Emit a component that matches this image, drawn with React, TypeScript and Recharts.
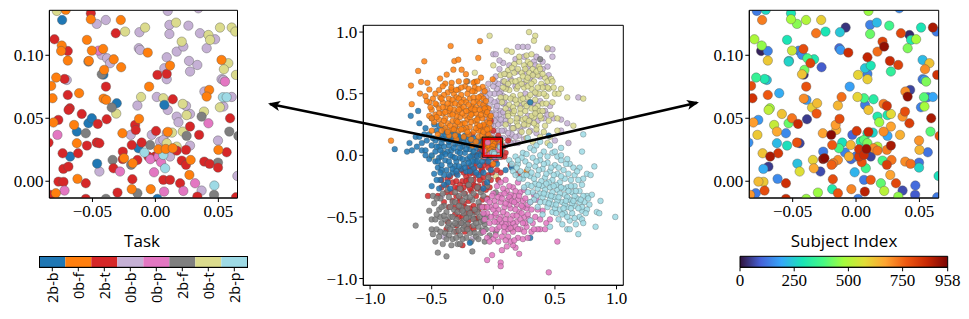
import { Bar, BarChart, Cell, ReferenceArea, Scatter, ScatterChart, XAxis, YAxis } from "recharts";

// categories in colorbar order
const TASKS = ["2b-b", "0b-f", "2b-t", "0b-b", "0b-p", "2b-f", "0b-t", "2b-p"];
const TASK_COLORS = ["#1f77b4", "#ff7f0e", "#d62728", "#c5b0d5", "#e377c2", "#7f7f7f", "#dbdb8d", "#9edae5"];
const TURBO = ["#30123b", "#4662d8", "#36a8f9", "#1ae4b6", "#46f884", "#a4fc3c", "#e1dd37", "#fea431", "#ef5911", "#c82803", "#7a0403"];
const SUBJECT_MAX = 958;
const SUBJECT_TICKS = [0, 250, 500, 750, 958];
const MAIN_TICKS = [-1, -0.5, 0, 0.5, 1];
const INSET_X_TICKS = [-0.05, 0, 0.05];
const INSET_Y_TICKS = [0, 0.05, 0.1];
const MAIN_DOMAIN = [-1.055, 1.055];
const INSET_X_DOMAIN = [-0.0842, 0.0652];
const INSET_Y_DOMAIN = [-0.0133, 0.1357];

// embedding
const BLUE = [[-.8,.05],[-.7,.03],[-.66,.04],[-.68,.1],[-.63,.15],[-.67,.32],[-.61,.36],[-.6,.26],[-.55,.22],[-.5,.3],[-.52,.17],[-.6,.15],[-.62,.07],[-.58,.04],[-.55,.04],[-.54,.12],[-.5,.08],[-.52,-.03],[-.5,0],[-.47,-.05],[-.45,-.1],[-.48,-.15],[-.5,-.25],[-.43,-.2],[-.19,-.71],[.3,-.67],[-.05,-.22],[.1,-.12],[.15,-.1],[.3,.43],[.45,.16],[-.46,.2],[-.42,.16],[-.47,.12],[-.44,.07],[-.41,.02],[-.44,-.02],[-.38,.13],[-.36,.08],[-.33,.14],[-.37,.03],[-.39,-.04],[-.35,-.08],[-.38,-.12],[-.31,.09],[-.29,.03],[-.33,-.01],[-.3,-.05],[-.28,.12],[-.25,.07],[-.23,.02],[-.27,-.02],[-.24,-.07],[-.26,-.11],[-.21,.11],[-.19,.05],[-.17,.0],[-.21,-.03],[-.18,-.08],[-.14,.06],[-.12,.01],[-.15,-.04],[-.11,-.08],[-.09,.04],[-.07,-.02],[-.33,.19],[-.4,.21],[-.29,.17],[-.23,.16],[-.33,-.14],[-.29,-.16],[-.4,-.16],[-.44,-.27],[-.37,-.22],[-.22,-.13],[-.12,-.16],[-.08,-.27],[-.02,-.12],[.03,-.07],[-.42,.1],[-.34,.04],[-.27,.06],[-.2,.08],[-.16,.03],[-.31,-.09],[-.25,-.03],[-.19,-.01],[-.13,-.01],[-.42,-.08],[-.4,.07],[-.36,.16],[-.26,.14],[-.47,.03],[-.42,-.12],[-.16,-.11],[-.24,.1],[-.3,.14],[-.44,.14],[-.39,.17],[-.35,.12],[-.32,.06],[-.29,.1],[-.27,.02],[-.22,.05],[-.18,.12],[-.15,.1],[-.12,.08],[-.1,.0],[-.07,.05],[-.05,.08],[-.04,.01],[-.09,-.05],[-.13,-.05],[-.17,-.05],[-.2,-.06],[-.23,-.1],[-.28,-.09],[-.31,-.02],[-.35,0],[-.39,.01],[-.43,.04],[-.46,.07],[-.36,.11],[-.41,.13],[-.38,.19],[-.34,.17],[-.28,.15],[-.24,.14],[-.2,.15],[-.16,.14],[-.12,.12],[-.08,.11],[-.45,-.05],[-.42,-.01],[-.36,-.05],[-.33,-.11],[-.3,-.13],[-.36,-.16],[-.43,-.14],[-.46,-.2],[-.4,-.24],[-.35,-.27],[-.19,-.13],[-.14,-.14],[-.08,-.14],[-.04,-.05],[-.56,.17],[-.48,.25],[-.44,.24],[-.58,.1],[-.49,.14],[-.55,.0],[.0,.02]];
const ORANGE = [[-.346,.887],[-.108,.927],[-.56,.763],[-.316,.765],[-.284,.776],[-.122,.79],[-.61,.685],[-.378,.655],[-.324,.695],[-.257,.695],[-.222,.658],[-.432,.623],[-.586,.596],[-.668,.566],[-.535,.588],[-.595,.501],[-.662,.415],[-.83,.119],[-.39,.582],[-.338,.588],[-.284,.534],[-.519,.534],[-.149,.596],[-.005,.617],[-.086,.555],[-.16,.59],[-.37,.51],[-.32,.5],[-.26,.49],[-.15,.52],[-.1,.48],[-.49,.46],[-.43,.47],[-.36,.46],[-.3,.47],[-.24,.45],[-.19,.46],[-.13,.44],[-.08,.46],[-.46,.41],[-.41,.43],[-.34,.42],[-.28,.41],[-.22,.43],[-.17,.4],[-.11,.42],[-.06,.39],[-.5,.37],[-.44,.38],[-.38,.39],[-.32,.37],[-.26,.38],[-.2,.36],[-.14,.39],[-.09,.36],[-.04,.38],[-.47,.33],[-.41,.34],[-.35,.33],[-.29,.35],[-.23,.32],[-.17,.34],[-.12,.31],[-.06,.33],[-.44,.29],[-.39,.3],[-.33,.28],[-.27,.31],[-.21,.29],[-.15,.28],[-.09,.3],[-.05,.27],[-.37,.26],[-.31,.24],[-.25,.26],[-.19,.23],[-.13,.25],[-.07,.23],[-.34,.21],[-.28,.2],[-.22,.22],[-.16,.19],[-.1,.2],[-.04,.17],[-.45,.17],[-.36,.16],[-.24,.15],[-.18,.13],[-.12,.15],[-.06,.12],[-.3,.13],[-.17,.08],[-.1,.07],[.0,-.07],[.27,-.13],[-.52,.43],[-.47,.5],[-.4,.49],[-.34,.53],[-.28,.46],[-.21,.5],[-.16,.47],[-.52,.32],[-.41,.39],[-.36,.36],[-.3,.32],[-.25,.34],[-.19,.31],[-.14,.34],[-.08,.41],[-.03,.3],[-.39,.22],[-.24,.21],[-.12,.2],[-.2,.17],[-.09,.16],[-.03,.22],[-.48,.27],[-.15,.55],[-.23,.56],[-.07,.52],[-.55,.48],[-.33,.33],[-.27,.25],[-.18,.38],[-.47,.42],[-.44,.34],[-.42,.46],[-.39,.35],[-.37,.42],[-.35,.38],[-.33,.45],[-.31,.42],[-.3,.28],[-.28,.37],[-.26,.43],[-.24,.39],[-.22,.36],[-.2,.41],[-.18,.33],[-.16,.43],[-.15,.37],[-.13,.29],[-.12,.47],[-.11,.37],[-.1,.33],[-.08,.25],[-.07,.38],[-.06,.44],[-.05,.35],[-.02,.32],[-.42,.25],[-.4,.28],[-.35,.24],[-.32,.21],[-.29,.27],[-.26,.21],[-.23,.26],[-.21,.19],[-.18,.27],[-.14,.22],[-.11,.24],[-.08,.19],[-.05,.21],[-.03,.26],[-.34,.55],[-.3,.53],[-.26,.55],[-.2,.54],[-.17,.52],[-.12,.54],[-.44,.53],[-.51,.39],[-.54,.44],[-.46,.31],[-.5,.3],[-.41,.56],[-.28,.6],[-.22,.6],[-.1,.63],[-.13,.6],[-.42,.2],[-.5,.2],[-.37,.19],[-.31,.16],[-.14,.11],[-.02,.14]];
const RED = [[-.53,-.33],[-.42,-.26],[-.4,-.38],[-.37,-.19],[-.33,-.22],[-.3,-.15],[-.26,-.12],[-.22,-.17],[-.2,-.1],[-.17,-.14],[-.14,-.06],[-.1,-.1],[-.08,-.18],[-.05,-.06],[-.02,-.02],[.02,-.04],[-.34,-.3],[-.29,-.27],[-.25,-.21],[-.21,-.24],[-.16,-.2],[-.12,-.25],[-.06,-.28],[-.02,-.2],[-.27,-.35],[-.23,-.31],[-.18,-.29],[-.14,-.33],[-.09,-.36],[-.31,-.42],[-.24,-.39],[-.2,-.37],[-.16,-.41],[-.12,-.44],[-.28,-.5],[-.22,-.47],[-.18,-.46],[-.26,-.55],[-.23,-.62],[-.19,-.58],[-.13,-.51],[-.25,-.73],[-.37,-.54],[-.3,-.62],[-.1,.12],[-.05,.18],[.0,.2],[.04,.16],[.08,.07],[-.02,.09],[.1,.02],[.03,.02],[-.08,.24],[-.05,-.35],[-.07,-.42],[-.45,-.33],[-.15,-.52],[-.11,.03],[.06,-.14],[.14,-.08],[-.3,-.21],[-.24,-.26],[-.19,-.15],[-.11,-.2],[-.04,-.1],[.05,.08],[-.06,.06],[-.16,-.24],[-.09,-.12],[-.38,-.3],[-.28,-.38],[-.1,-.28],[-.03,-.26],[-.15,-.1],[-.42,-.2],[-.38,-.24],[-.35,-.17],[-.31,-.26],[-.27,-.24],[-.24,-.14],[-.2,-.2],[-.18,-.12],[-.14,-.16],[-.13,-.27],[-.1,-.14],[-.07,-.23],[-.04,-.16],[-.01,-.08],[.03,-.12],[-.08,-.08],[-.19,-.27],[-.15,-.25],[-.26,-.28],[-.22,-.21],[-.3,-.33],[-.33,-.37],[-.36,-.42],[-.27,-.44],[-.23,-.42],[-.19,-.43],[-.15,-.46],[-.11,-.41],[-.31,-.48],[-.25,-.5],[-.2,-.53],[-.3,-.57],[-.22,-.58],[-.16,-.6],[-.38,-.6],[-.05,-.02],[-.14,.0],[.0,.05],[.02,.12],[.09,-.01],[.12,.12],[.2,-.15],[.04,-.2],[-.01,-.14],[-.17,.17],[-.12,.22],[-.02,.28]];
const LILAC = [[0,.82],[.02,.82],[.2,.88],[.24,.88],[.33,.76],[.44,.86],[.48,.86],[.48,.8],[.69,.47],[.49,.3],[.6,.26],[.55,.29],[.61,.1],[.3,.63],[.42,.56],[-.02,.45],[-.05,.53],[-.03,.4],[-.07,.35],[-.01,.34],[-.04,.28],[.0,.24],[.04,.2],[.03,.3],[.07,.26],[.02,.38],[.06,.36],[.04,.44],[.08,.42],[.01,.5],[.06,.52],[.1,.32],[.09,.2],[.12,.26],[.13,.14],[.15,.36],[.17,.22],[.16,.46],[.11,.55],[.04,.58],[.2,.3],[.21,.16],[.25,.24],[.22,.4],[.18,.56],[.28,.32],[.3,.2],[.26,.5],[.33,.42],[.36,.28],[.1,.66],[.13,.73],[.05,.7],[.26,.68],[.35,.5],[.38,.64],[.42,.36],[.44,.72],[-.1,.2],[-.06,.12],[.1,.08],[-.42,-.33],[-.17,-.68],[-.4,-.66],[-.03,.5],[.01,.43],[.05,.33],[.08,.48],[-.01,.28],[.08,.14],[.15,.17],[.12,.38],[.17,.1],[.25,.13],[.03,.54],[.08,.6],[.35,.18],[.4,.7],[.34,.73],[.18,.78],[-.01,.18],[.04,.25],[-.07,.43],[-.06,.47],[-.08,.51],[-.04,.58],[0,.56],[-.09,.39],[-.05,.37],[-.03,.34],[-.06,.3],[-.02,.25],[.02,.33],[.01,.28],[.03,.4],[.05,.5],[.08,.35],[.1,.28],[.07,.2],[.12,.18],[.15,.22],[.18,.15],[.22,.2],[.06,.29],[.09,.43],[.1,.58],[.02,.64],[.01,.6],[.14,.62],[.19,.68],[.28,.72],[.33,.66],[.25,.58],[.27,.42],[.3,.27],[.35,.35],[.38,.44],[.41,.3],[.44,.33],[.46,.4],[.45,.65],[.4,.76],[.35,.8],[.28,.88],[.25,.8],[.08,.75],[.05,.77],[.5,.12],[.55,.2],[.14,.1],[.2,.1]];
const PINK = [[.45,-.95],[-.05,-.85],[.06,-.87],[.06,-.9],[-.01,-.81],[.21,-.8],[.52,-.7],[.18,-.75],[.16,-.73],[.43,-.55],[.46,-.52],[.38,-.6],[.42,-.6],[.11,-.74],[.07,-.77],[.0,-.68],[-.05,-.67],[.04,-.7],[.12,-.66],[.2,-.67],[.24,-.68],[.31,-.62],[.36,-.6],[.32,-.55],[.27,-.58],[.22,-.6],[.16,-.62],[.09,-.62],[.03,-.6],[-.03,-.55],[.07,-.55],[.13,-.56],[.19,-.54],[.25,-.5],[-.05,-.47],[.01,-.49],[.06,-.5],[.11,-.48],[.16,-.49],[.21,-.46],[.27,-.43],[-.09,-.42],[-.02,-.42],[.04,-.44],[.09,-.42],[.14,-.43],[.19,-.4],[.24,-.37],[-.05,-.36],[.01,-.37],[.06,-.38],[.12,-.36],[.17,-.33],[.22,-.3],[.0,-.31],[.06,-.32],[.11,-.29],[.16,-.26],[.03,-.25],[.3,-.38],[.34,-.5],[.4,-.45],[.35,-.36],[.1,-.2],[.2,-.22],[.03,-.54],[.1,-.52],[.16,-.55],[.22,-.52],[.02,-.47],[.08,-.46],[.13,-.4],[.18,-.44],[.24,-.42],[-.01,-.33],[.08,-.27],[.14,-.32],[.2,-.36],[.05,-.58],[.12,-.6],[.18,-.58],[-.07,-.52],[.26,-.55],[.28,-.67],[.14,-.7],[-.08,-.47],[-.05,-.42],[-.03,-.38],[.0,-.44],[.02,-.41],[.04,-.34],[.07,-.35],[.09,-.31],[.1,-.39],[.13,-.34],[.15,-.37],[.17,-.38],[.21,-.33],[.23,-.41],[.26,-.35],[.28,-.4],[.31,-.44],[.28,-.48],[.23,-.47],[.19,-.49],[.14,-.52],[.1,-.56],[.05,-.52],[.01,-.54],[-.02,-.5],[-.01,-.6],[.02,-.65],[.07,-.66],[.09,-.58],[.14,-.59],[.2,-.6],[.25,-.62],[.24,-.55],[.29,-.52],[.36,-.44],[.38,-.52],[.33,-.6],[.17,-.69],[.1,-.69],[-.03,-.7],[-.08,-.62],[.13,-.25],[.06,-.22],[.18,-.29],[.25,-.28],[.33,-.32]];
const GREY = [[-.63,-.57],[-.5,-.52],[-.47,-.52],[-.5,-.6],[-.49,-.64],[-.46,-.6],[-.47,-.7],[-.45,-.79],[-.38,-.82],[-.34,-.73],[-.29,-.72],[-.17,-.78],[-.39,-.63],[-.36,-.65],[-.27,-.72],[-.33,-.57],[-.44,-.44],[-.48,-.39],[-.43,-.35],[-.49,-.33],[-.38,-.46],[-.4,-.41],[-.35,-.5],[-.32,-.44],[-.36,-.34],[-.33,-.38],[-.29,-.46],[-.26,-.42],[-.28,-.33],[-.24,-.47],[-.21,-.43],[-.17,-.49],[-.13,-.46],[-.24,-.53],[-.21,-.56],[-.16,-.57],[-.12,-.58],[-.09,-.61],[-.29,-.56],[-.25,-.6],[-.19,-.63],[-.15,-.63],[-.32,-.62],[-.27,-.65],[-.22,-.67],[-.2,-.24],[-.16,-.31],[-.12,-.38],[-.1,-.3],[-.22,-.34],[-.18,-.2],[-.08,-.48],[-.03,-.65],[.02,-.3],[-.04,-.18],[-.1,-.54],[-.14,-.66],[.38,.78],[-.21,.6],[-.31,.22],[.02,-.62],[-.42,-.55],[-.37,-.58],[-.3,-.52],[-.43,-.5],[-.35,-.42],[-.25,-.37],[-.17,-.36],[-.2,-.5],[-.07,-.56],[-.33,-.68],[-.41,-.72],[-.24,-.57],[-.18,-.7],[-.28,-.61],[-.46,-.48],[-.42,-.42],[-.39,-.52],[-.36,-.55],[-.33,-.5],[-.31,-.38],[-.28,-.41],[-.25,-.45],[-.22,-.51],[-.19,-.47],[-.16,-.52],[-.14,-.55],[-.11,-.5],[-.08,-.53],[-.05,-.5],[-.06,-.6],[-.1,-.63],[-.12,-.68],[-.21,-.6],[-.26,-.55],[-.31,-.55],[-.35,-.6],[-.38,-.68],[-.43,-.62],[-.44,-.66],[-.52,-.45],[-.46,-.35],[-.41,-.31],[-.37,-.28],[-.31,-.3],[-.24,-.31],[-.19,-.34],[-.13,-.26],[-.08,-.33],[-.05,-.25],[-.15,-.44],[-.27,-.27],[-.3,-.67],[-.25,-.68],[-.07,-.7],[-.11,-.42],[-.4,-.49]];
const OLIVE = [[.29,1.0],[.34,.97],[.33,.93],[-.03,.97],[.11,.85],[.15,.84],[.27,.81],[.44,.87],[.5,.5],[.53,.5],[.73,.46],[.65,.24],[.52,.3],[.52,.2],[-.15,.67],[0,.73],[.46,.15],[.28,.76],[.21,.76],[.32,.7],[.12,.69],[.06,.65],[.17,.67],[.23,.67],[.29,.67],[.36,.65],[.42,.63],[.45,.54],[.39,.58],[.33,.6],[.27,.61],[.21,.61],[.15,.6],[.09,.6],[.13,.53],[.19,.54],[.25,.55],[.31,.54],[.37,.5],[.43,.48],[.1,.47],[.16,.48],[.22,.49],[.28,.47],[.34,.45],[.4,.42],[.13,.41],[.19,.42],[.25,.42],[.31,.38],[.37,.36],[.1,.38],[.16,.34],[.22,.34],[.28,.25],[.33,.31],[.39,.3],[.19,.27],[.24,.29],[.14,.28],[.42,.24],[.35,.24],[.47,.33],[.38,.15],[.44,.1],[.48,.43],[.49,.55],[.23,.19],[.27,.14],[-.16,.01],[-.5,-.01],[-.1,-.2],[.15,-.6],[.02,-.17],[.17,.74],[.25,.73],[.37,.72],[.2,.56],[.28,.56],[.34,.51],[.22,.45],[.3,.43],[.36,.4],[.16,.39],[.26,.36],[.31,.32],[.12,.34],[.19,.3],[.43,.42],[.44,.55],[.1,.54],[.26,.3],[.33,.26],[.4,.36],[.06,.47],[.13,.65],[.24,.64],[.31,.58],[.15,.71],[.2,.7],[.26,.7],[.3,.74],[.35,.68],[.4,.66],[.44,.6],[.47,.62],[.41,.5],[.4,.55],[.36,.55],[.32,.65],[.28,.63],[.23,.58],[.18,.6],[.12,.58],[.08,.55],[.07,.43],[.14,.46],[.18,.45],[.24,.46],[.3,.49],[.34,.38],[.38,.32],[.34,.34],[.27,.4],[.22,.38],[.17,.36],[.12,.32],[.2,.24],[.25,.25],[.29,.28],[.35,.21],[.41,.19],[.45,.28],[.29,.19],[.32,.11],[.16,.22],[.1,.25],[.09,.66],[.21,.8],[.31,.82],[.38,.7],[.48,.6],[.55,.54],[.6,.47]];
const CYAN = [[.99,-.5],[.83,-.58],[.69,-.64],[.6,-.6],[.73,.17],[.72,.03],[.82,-.09],[.87,-.37],[.84,-.46],[.86,-.47],[.4,-.48],[.46,-.58],[.3,-.53],[.7,-.1],[.76,-.15],[.79,-.16],[.73,-.19],[.69,-.2],[.66,-.16],[.62,-.07],[.59,-.07],[.55,-.04],[.52,-.01],[.55,.06],[.46,.08],[.48,.02],[.41,.03],[.35,.08],[.3,.06],[.24,.02],[.18,-.01],[.13,-.04],[.2,-.07],[.26,-.05],[.32,-.02],[.38,-.04],[.44,-.06],[.5,-.08],[.57,-.12],[.63,-.2],[.16,-.13],[.22,-.13],[.28,-.11],[.34,-.09],[.4,-.11],[.46,-.13],[.52,-.15],[.58,-.19],[.24,-.19],[.3,-.17],[.36,-.16],[.42,-.18],[.48,-.2],[.54,-.22],[.6,-.26],[.66,-.25],[.72,-.24],[.28,-.24],[.34,-.23],[.4,-.25],[.46,-.26],[.52,-.28],[.58,-.32],[.64,-.3],[.7,-.29],[.76,-.33],[.32,-.3],[.38,-.31],[.44,-.32],[.5,-.34],[.56,-.38],[.62,-.36],[.68,-.35],[.74,-.38],[.42,-.38],[.48,-.4],[.54,-.44],[.6,-.42],[.66,-.41],[.72,-.45],[.78,-.4],[.48,-.46],[.58,-.47],[.64,-.47],[.7,-.5],[.76,-.44],[.62,-.53],[.53,-.52],[.67,-.56],[.72,-.42],[.38,.11],[.28,.14],[.23,-.02],[.29,-.08],[.35,-.05],[.41,-.07],[.47,-.1],[.53,-.1],[.19,-.1],[.25,-.16],[.31,-.14],[.37,-.12],[.43,-.15],[.49,-.16],[.55,-.17],[.61,-.15],[.33,-.19],[.39,-.21],[.45,-.22],[.51,-.24],[.57,-.27],[.63,-.25],[.36,-.27],[.42,-.28],[.48,-.3],[.54,-.31],[.6,-.34],[.66,-.33],[.4,-.34],[.46,-.36],[.52,-.37],[.58,-.4],[.64,-.39],[.7,-.38],[.44,-.42],[.5,-.43],[.56,-.48],[.15,-.07],[.2,-.04],[.27,.01],[.33,.04],[.38,.0],[.44,-.01],[.5,.03],[.55,0],[.6,-.03],[.65,-.1],[.68,-.13],[.27,-.16],[.21,-.19],[.18,-.16],[.25,-.26],[.31,-.25],[.37,-.24],[.43,-.23],[.49,-.25],[.55,-.26],[.61,-.29],[.67,-.29],[.73,-.33],[.35,-.33],[.41,-.31],[.47,-.33],[.53,-.34],[.59,-.37],[.65,-.37],[.71,-.36],[.8,-.32],[.45,-.39],[.51,-.4],[.57,-.43],[.63,-.43],[.69,-.43],[.75,-.47],[.51,-.47],[.6,-.5],[.66,-.51],[.72,-.52],[.77,-.35],[.56,-.56],[.73,-.55],[.62,-.6],[.38,-.38],[.33,-.36],[.28,-.3],[.3,-.38],[.36,-.42]];

// the inset region: x, y, task index, subject index
const INSET_POINTS = [
  [-.0783,.1352,6,130],[-.0712,.136,1,270],[-.0741,.128,0,720],[-.0513,.1333,2,290],[-.0513,.1286,1,480],[-.0466,.1249,3,450],[-.0394,.128,3,500],[-.0275,.128,1,600],[-.0315,.1175,2,730],[-.0241,.1188,6,290],[-.0127,.1183,3,240],[-.0082,.122,6,40],[.0098,.1352,3,470],[.0111,.1241,3,140],[.0164,.1259,6,220],[.0262,.1235,3,370],[.0111,.1169,3,420],[.0354,.1175,3,800],[.0421,.1161,6,30],[.0434,.1122,6,300],[.0474,.1127,3,480],[.0513,.122,6,290],[.0606,.122,6,900],[.0635,.1188,6,130],[.0341,.1373,3,150],
  [-.0802,.1127,2,490],[-.0744,.1077,1,460],[-.0749,.1034,1,20],[-.0696,.1034,2,140],[-.0696,.0958,1,610],[-.0544,.1122,1,290],[-.0505,.1037,1,540],[-.0452,.1037,4,130],[-.0415,.105,1,790],[-.0426,.1003,3,150],[-.0384,.0976,3,380],[-.0331,.0968,1,300],[-.036,.0937,3,810],[-.0532,.095,5,260],[-.0529,.0955,1,240],[-.0407,.0884,1,430],[-.0426,.0849,5,620],[-.0413,.0846,0,30],[-.0272,.0905,1,90],[-.0132,.1056,3,110],[-.0122,.1042,3,170],[-.0061,.1021,1,850],[.009,.0984,3,870],[.0169,.1029,3,740],[.0209,.1108,6,810],[.0222,.1069,3,930],[.0407,.1056,3,440],[.0267,.0955,3,860],[.0333,.0923,3,810],[.0275,.0871,3,340],[.0116,.0918,1,290],[.0071,.0897,3,240],[.0016,.0844,2,590],[.009,.0852,2,140],[.009,.081,3,600],[.0525,.0963,1,220],[.0579,.0937,6,620],[.0544,.0889,6,700],[.064,.0844,6,840],[.0525,.081,3,130],[.054,.0805,3,170],[.0553,.0791,4,440],
  [-.0788,.0823,1,350],[-.0722,.0812,2,300],[-.0704,.0804,3,230],[-.0828,.0757,1,790],[-.0393,.0751,2,780],[-.0606,.0699,1,200],[-.0696,.0685,2,770],[-.0817,.0659,1,840],[-.0412,.0656,1,700],[-.0391,.0646,1,170],[-.0307,.0619,0,630],[-.0347,.0585,5,600],[-.068,.0579,2,480],[-.069,.0566,2,520],[-.005,.0751,1,180],[-.0114,.0669,6,740],[-.0143,.0601,3,640],[.0011,.0669,3,590],[.0063,.0659,6,380],[.0071,.0606,0,130],[.0098,.0566,3,620],[.0138,.0651,2,320],[.0217,.0614,6,720],[.0243,.0598,3,840],[.0169,.0513,3,310],[.0183,.0468,3,470],[.0275,.0534,3,580],[.0248,.0525,6,300],[.0386,.0553,6,790],[.0367,.0513,5,690],[.0389,.0712,3,700],[.0427,.0725,1,60],[.0407,.0672,1,930],[.0536,.0667,7,400],[.0566,.0667,7,130],[.0606,.0669,3,190],[.0512,.0587,6,140],[.054,.0593,3,480],[.0593,.05,2,900],[.0421,.046,4,820],[.0587,.0394,5,400],[.0659,.036,5,780],
  [-.0585,.0534,2,620],[-.0771,.0487,2,170],[-.081,.0466,1,680],[-.0778,.0368,4,610],[-.0646,.0447,1,530],[-.0532,.046,0,420],[-.0505,.05,0,730],[-.0458,.0455,2,860],[-.0387,.0492,2,50],[-.0311,.0537,6,770],[-.013,.0495,1,790],[-.0161,.0447,2,680],[-.0156,.0407,2,650],[-.0196,.0368,3,940],[-.0262,.0381,1,670],[-.0624,.0394,0,660],[-.0553,.0381,5,150],[-.0624,.0302,1,220],[-.0544,.0283,2,280],[-.0466,.0307,2,780],[-.0445,.0302,2,60],[-.0849,.0307,2,160],[-.0737,.0222,2,620],[-.0677,.0196,0,900],[-.0614,.0222,2,830],[-.0731,.0098,2,200],[-.0691,.0116,2,50],[-.0463,.014,0,230],[-.0445,.0077,3,570],[-.0333,.0103,2,660],[-.034,.0169,5,590],[-.0281,.0077,4,70],[-.0259,.0235,2,130],[-.0249,.0183,1,940],[-.026,.0176,2,930],[-.0188,.0288,2,770],[-.0109,.0307,2,280],[-.0135,.0262,0,380],[-.0087,.0228,7,140],[-.0193,.013,5,760],[-.018,.0143,1,720],[-.0143,.0169,2,700],[-.0183,.0016,2,790],
  [-.0042,.0288,5,640],[-.0029,.0368,3,100],[.0005,.0399,2,830],[.0098,.0392,1,860],[.0132,.0386,6,260],[.009,.0381,3,300],[.0037,.0315,3,310],[.0063,.0328,3,400],[.009,.0302,6,440],[.0024,.0254,1,840],[.0082,.0256,1,920],[.0138,.0262,1,700],[.0169,.0275,6,500],[.0169,.0243,2,730],[.0063,.0209,7,850],[-.0003,.0196,2,130],[-.004,.0175,4,110],[.0024,.0196,4,830],[.0045,.0151,4,780],[.0077,.0103,7,370],[-.0011,.0071,4,210],[.0116,.0196,3,60],[-.0056,.0196,2,650],[.0063,.0011,2,130],[.0116,.0011,2,770],[.0196,-.0016,2,410],[.0315,-.0016,4,800],[.027,.005,1,670],[.0209,.0164,2,380],[.0243,.013,2,820],[.028,.0169,1,730],[.0243,.0249,2,720],[.0275,.0283,3,900],[.0217,.0394,6,700],[.0248,.036,5,190],[.0275,.0434,2,670],[.0347,.0368,2,650],[.0497,.0323,3,690],[.05,.0249,1,640],[.0566,.023,2,120],[.0388,.0156,2,700],[.043,.0138,2,740],[.0497,.0148,5,120],[.0497,.0108,2,260],[.0651,.0042,3,280],[.0468,-.0034,7,110],[.0466,-.0108,5,90],[.0367,-.0074,3,70],[.0333,-.0122,2,460],[.0222,-.0077,4,510],[.0069,-.0082,4,880],[-.0037,-.0063,1,710],[-.0143,-.0095,5,780],[-.0188,-.0063,1,310],[-.0301,-.009,2,470],[-.0553,-.0016,2,850],[-.0619,.0019,1,150],[-.077,-.0003,2,630],[-.073,-.0005,2,610],[-.0722,-.0074,4,790],[-.0791,-.0095,1,130],[-.0836,-.0108,2,690],[-.0553,-.014,2,850],[-.0393,-.014,5,470],[.0016,-.014,0,140],[.064,-.0127,2,130],
];

// where the inset sits on the middle panel
const BOX_OUTER = { x1: -0.09, x2: 0.073, y1: -0.015, y2: 0.147 };
const BOX_RED = { x1: -0.078, x2: 0.061, y1: -0.004, y2: 0.132 };

const SERIF = "'Liberation Serif', serif";
const SANS = "'Open Sans', sans-serif";
const TICK = { fontFamily: SERIF, fontSize: 17, fill: "#000" };

const fmt = (digits: number) => (v: number) => (v < 0 ? "\u2212" : "") + Math.abs(v).toFixed(digits);
const toXY = (rows: number[][]) => rows.map(([x, y]) => ({ x, y }));

const hexToRgb = (h: string) => [1, 3, 5].map((i) => parseInt(h.slice(i, i + 2), 16));
const turbo = (subject: number) => {
  const t = (subject / SUBJECT_MAX) * (TURBO.length - 1);
  const i = Math.min(Math.floor(t), TURBO.length - 2);
  const a = hexToRgb(TURBO[i]);
  const b = hexToRgb(TURBO[i + 1]);
  const c = a.map((v, k) => Math.round(v + (b[k] - v) * (t - i)));
  return `rgb(${c[0]},${c[1]},${c[2]})`;
};

const taskRows = (task: number) => toXY(INSET_POINTS.filter((p) => p[2] === task));
const bySubject = [...INSET_POINTS]
  .sort((a, b) => a[3] - b[3])
  .map(([x, y, , subject]) => ({ x, y, subject }));

const cbData = TASKS.map((task) => ({ task, v: 1 }));
const subjectTickRows = SUBJECT_TICKS.map((x) => ({ x, y: 0 }));

const dot = (r: number) => (p: any) => (
  <circle cx={p.cx} cy={p.cy} r={r} fill={p.fill} fillOpacity={p.fillOpacity} stroke={p.stroke} strokeWidth={p.strokeWidth} />
);

const RotatedTick = ({ x, y, payload }: any) => (
  <text
    x={x}
    y={y}
    transform={`rotate(-90 ${x} ${y})`}
    textAnchor="end"
    dominantBaseline="central"
    fontFamily={SANS}
    fontSize={14.5}
    fill="#000"
    dx={1}
  >
    {payload.value}
  </text>
);

const frame = (x: number[], y: number[]) => (
  <ReferenceArea x1={x[0]} x2={x[1]} y1={y[0]} y2={y[1]} fill="none" stroke="#000" strokeWidth={1} zIndex={1000} />
);

const LeftInset = () => (
  <ScatterChart width={245} height={235} margin={{ left: 9.4, right: 7.5, top: 10.3, bottom: 7 }}>
    <XAxis type="number" dataKey="x" domain={INSET_X_DOMAIN} ticks={INSET_X_TICKS} tickFormatter={fmt(2)} allowDataOverflow interval={0} height={30} tickSize={4} tickMargin={3} tick={TICK} stroke="#000" />
    <YAxis type="number" dataKey="y" domain={INSET_Y_DOMAIN} ticks={INSET_Y_TICKS} tickFormatter={fmt(2)} allowDataOverflow interval={0} width={40} tickSize={4} tickMargin={2} tick={TICK} stroke="#000" />
    {[3, 6, 0, 5, 2, 4, 7, 1].map((task) => (
      <Scatter key={task} data={taskRows(task)} fill={TASK_COLORS[task]} stroke="#555" strokeWidth={0.4} shape={dot(4.7)} isAnimationActive={false} />
    ))}
    {frame(INSET_X_DOMAIN, INSET_Y_DOMAIN)}
  </ScatterChart>
);

const RightInset = () => (
  <ScatterChart width={269} height={235} margin={{ left: 9.3, right: 30.3, top: 10.3, bottom: 7 }}>
    <XAxis type="number" dataKey="x" domain={INSET_X_DOMAIN} ticks={INSET_X_TICKS} tickFormatter={fmt(2)} allowDataOverflow interval={0} height={30} tickSize={4} tickMargin={3} tick={TICK} stroke="#000" />
    <YAxis type="number" dataKey="y" domain={INSET_Y_DOMAIN} ticks={INSET_Y_TICKS} tickFormatter={fmt(2)} allowDataOverflow interval={0} width={40} tickSize={4} tickMargin={2} tick={TICK} stroke="#000" />
    <Scatter data={bySubject} stroke="#555" strokeWidth={0.4} shape={dot(4.7)} isAnimationActive={false}>
      {bySubject.map((p, i) => (
        <Cell key={i} fill={turbo(p.subject)} />
      ))}
    </Scatter>
    {frame(INSET_X_DOMAIN, INSET_Y_DOMAIN)}
  </ScatterChart>
);

const MainPanel = () => (
  <ScatterChart width={320} height={319} margin={{ left: 1.3, right: 16.7, top: 25.3, bottom: 3.7 }}>
    <XAxis type="number" dataKey="x" domain={MAIN_DOMAIN} ticks={MAIN_TICKS} tickFormatter={fmt(1)} allowDataOverflow interval={0} height={30} tickSize={4} tickMargin={3} tick={TICK} stroke="#000" />
    <YAxis type="number" dataKey="y" domain={MAIN_DOMAIN} ticks={MAIN_TICKS} tickFormatter={fmt(1)} allowDataOverflow interval={0} width={42} tickSize={4} tickMargin={2} tick={TICK} stroke="#000" />
    {[
      [LILAC, 3],
      [OLIVE, 6],
      [RED, 2],
      [GREY, 5],
      [BLUE, 0],
      [ORANGE, 1],
      [PINK, 4],
      [CYAN, 7],
    ].map(([rows, task]: any) => (
      <Scatter key={task} data={[...toXY(rows), ...taskRows(task)]} fill={TASK_COLORS[task]} fillOpacity={0.85} stroke="#444" strokeWidth={0.3} shape={dot(2.85)} isAnimationActive={false} />
    ))}
    {frame(MAIN_DOMAIN, MAIN_DOMAIN)}
    <ReferenceArea {...BOX_OUTER} fill="none" stroke="#000" strokeWidth={1} zIndex={1000} />
    <ReferenceArea {...BOX_RED} fill="none" stroke="#e00000" strokeWidth={2} zIndex={1001} />
  </ScatterChart>
);

const TaskBar = () => (
  <BarChart width={260} height={69} data={cbData} barCategoryGap={0} margin={{ left: 39.3, right: 12.7, top: 6.3, bottom: 11.7 }}>
    <XAxis dataKey="task" interval={0} height={40} tickSize={4} tick={<RotatedTick />} stroke="#000" />
    <YAxis hide domain={[0, 1]} />
    <Bar dataKey="v" isAnimationActive={false}>
      {cbData.map((d, i) => (
        <Cell key={d.task} fill={TASK_COLORS[i]} />
      ))}
    </Bar>
  </BarChart>
);

const SubjectBar = () => (
  <ScatterChart width={269} height={50} margin={{ left: 40, right: 21.3, top: 6.3, bottom: 2.7 }}>
    <defs>
      <linearGradient id="turboGrad" x1="0" x2="1" y1="0" y2="0">
        {TURBO.map((c, i) => (
          <stop key={c} offset={i / (TURBO.length - 1)} stopColor={c} />
        ))}
      </linearGradient>
    </defs>
    <XAxis type="number" dataKey="x" domain={[0, SUBJECT_MAX]} ticks={SUBJECT_TICKS} interval={0} height={30} tickSize={4} tickMargin={3} tick={TICK} stroke="#000" />
    <YAxis type="number" dataKey="y" hide domain={[0, 1]} />
    <Scatter data={subjectTickRows} shape={() => null} isAnimationActive={false} />
    <ReferenceArea x1={0} x2={SUBJECT_MAX} y1={0} y2={1} fill="url(#turboGrad)" fillOpacity={1} stroke="#000" strokeWidth={1} />
  </ScatterChart>
);

const Title = ({ left, width, top, children }: any) => (
  <div style={{ position: "absolute", left, width, top, textAlign: "center", fontFamily: SANS, fontSize: 17, lineHeight: "24px", color: "#000" }}>
    {children}
  </div>
);

const Box = ({ left, top, children }: any) => <div style={{ position: "absolute", left, top }}>{children}</div>;

export default function App() {
  return (
    <div style={{ position: "absolute", left: 0, top: 0, width: 969, height: 319, background: "#fff", overflow: "hidden" }}>
      <Box left={0} top={0}><LeftInset /></Box>
      <Box left={320} top={0}><MainPanel /></Box>
      <Box left={700} top={0}><RightInset /></Box>
      <Title left={92} width={100} top={229}>Task</Title>
      <Title left={764} width={160} top={229}>Subject Index</Title>
      <Box left={0} top={250}><TaskBar /></Box>
      <div style={{ position: "absolute", left: 39, top: 256, width: 207, height: 10, border: "1px solid #000" }} />
      <Box left={700} top={250}><SubjectBar /></Box>
      <svg width={969} height={319} style={{ position: "absolute", left: 0, top: 0, pointerEvents: "none" }}>
        <defs>
          <marker id="head" markerUnits="userSpaceOnUse" markerWidth={13} markerHeight={11} refX={10} refY={5.5} orient="auto">
            <path d="M0,0.5 L12,5.5 L0,10.5 L3,5.5 z" fill="#000" />
          </marker>
        </defs>
        <line x1={482} y1={147.3} x2={270} y2={104} stroke="#000" strokeWidth={2.7} markerEnd="url(#head)" />
        <line x1={502} y1={147.3} x2={697} y2={102.7} stroke="#000" strokeWidth={2.7} markerEnd="url(#head)" />
      </svg>
    </div>
  );
}
